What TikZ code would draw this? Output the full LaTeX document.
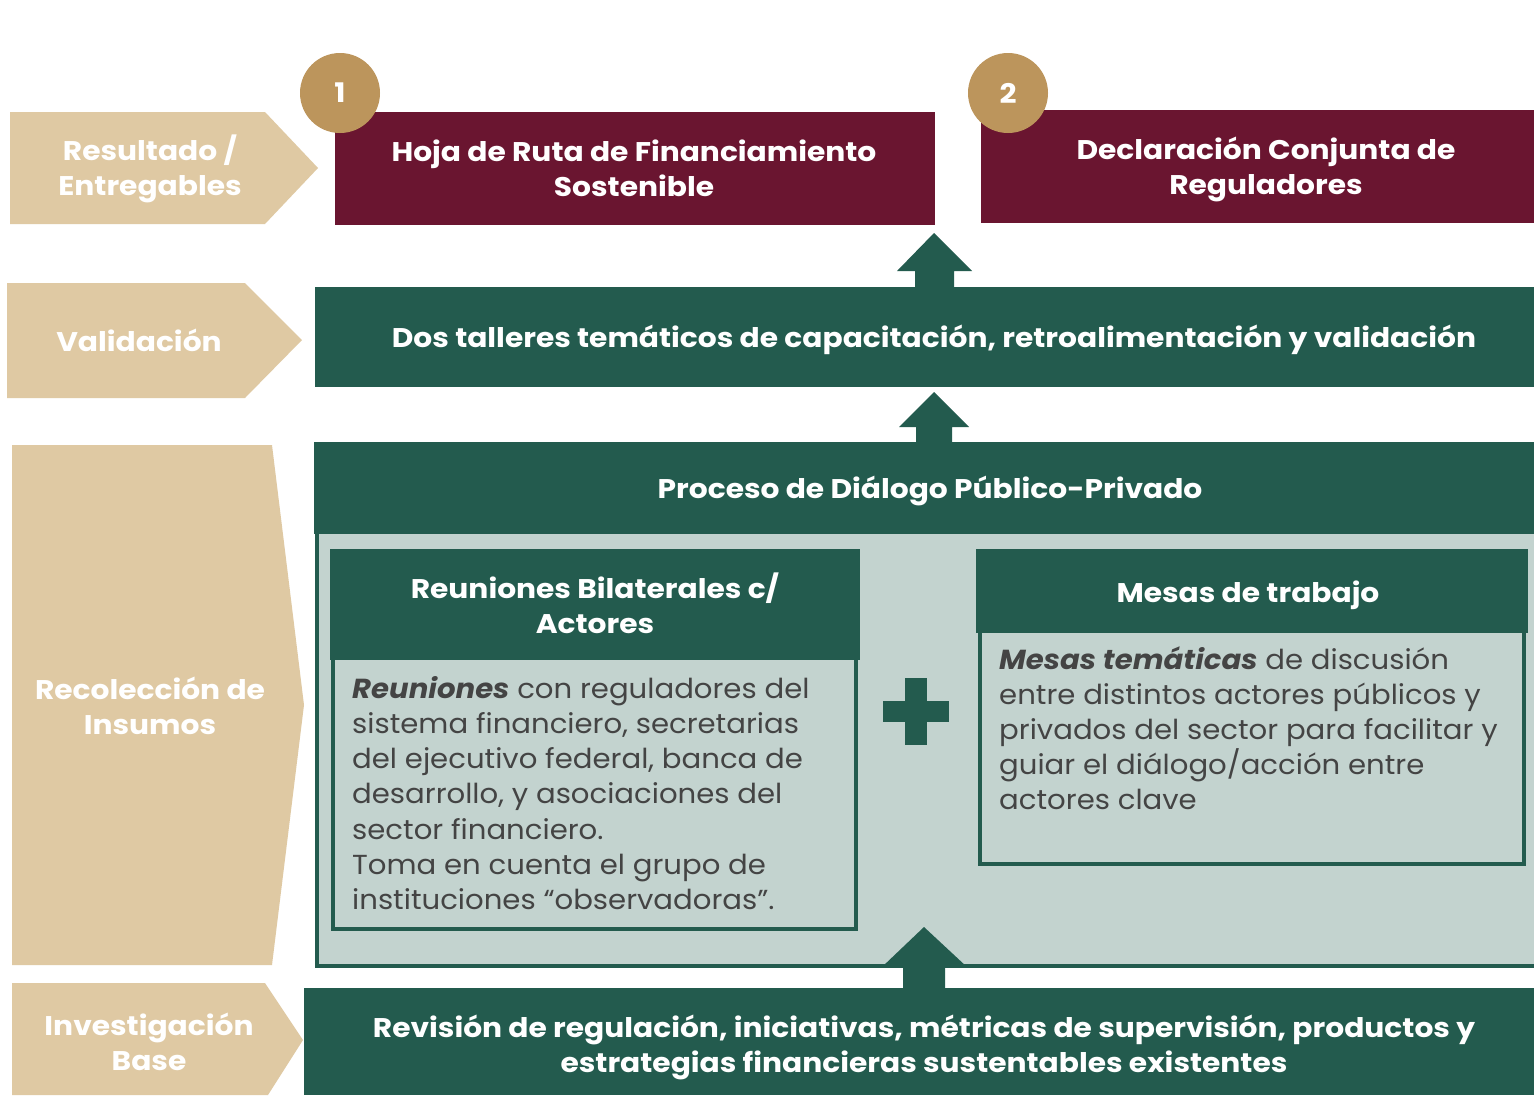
\documentclass[tikz,border=0pt]{standalone}
\usepackage{fontspec}
\setmainfont{Poppins}
\newfontfamily\hdrfam{Poppins}[FakeStretch=1.1]
\newfontfamily\bodyfam{Poppins}[FakeStretch=1.06]
\usetikzlibrary{calc}
\definecolor{beige}{HTML}{DFC9A3}
\definecolor{gold}{HTML}{BC955C}
\definecolor{maroon}{HTML}{6A1530}
\definecolor{dgreen}{HTML}{235B4E}
\definecolor{lightg}{HTML}{C3D3CF}
\definecolor{bodytxt}{HTML}{444444}
\tikzset{
  hdrfont/.style={font=\hdrfam\fontsize{27}{35}\selectfont\bfseries, text=white, align=center},
  lbl/.style={hdrfont},
  chev/.style={fill=beige},
  maroonbox/.style={fill=maroon, anchor=north west, inner sep=0pt},
  greenbox/.style={fill=dgreen, anchor=north west, inner sep=0pt},
  numcirc/.style={circle, fill=gold, minimum size=80pt, inner sep=0pt, text=white, font=\hdrfam\fontsize{27}{30}\selectfont\bfseries},
  upar/.style={fill=dgreen},
  framebox/.style={draw=dgreen, fill=lightg, line width=4pt},
  bodyfont/.style={font=\bodyfam\fontsize{27.5}{35.2}\selectfont, text=bodytxt, align=left, anchor=north west, inner sep=0pt}
}
\begin{document}
\begin{tikzpicture}[x=1pt,y=-1pt]
\useasboundingbox (0,0) rectangle (1534,1095);
\fill[white] (0,0) rectangle (1534,1095);

% left chevrons
\fill[chev] (10,112) -- (265,112) -- (318,168) -- (265,224) -- (10,224) -- cycle;
\node[lbl] (l1) at (150,169) {Resultado /\\Entregables};
\fill[chev] (7,283) -- (245,283) -- (302,340) -- (245,398) -- (7,398) -- cycle;
\node[lbl] (l2) at (139,340) {Validación};
\fill[chev] (12,445) -- (272,445) -- (304,705) -- (272,965) -- (12,965) -- cycle;
\node[lbl] (l3) at (150,706) {Recolección de\\Insumos};
\fill[chev] (12,983) -- (265,983) -- (303,1040) -- (268,1095) -- (12,1095) -- cycle;
\node[lbl] (l4) at (149,1042) {Investigación\\Base};

% top deliverables
\node[maroonbox, minimum width=600pt, minimum height=113pt] (hoja) at (335,112) {};
\node[hdrfont] (hojat) at (634,168.5) {Hoja de Ruta de Financiamiento\\Sostenible};
\node[maroonbox, minimum width=553pt, minimum height=113pt] (decl) at (981,110) {};
\node[hdrfont] (declt) at (1266,169.5) {Declaración Conjunta de\\Reguladores};
\node[numcirc] (n1) at (340,93) {1};
\node[numcirc] (n2) at (1008,93) {2};

% validation
\node[greenbox, minimum width=1219pt, minimum height=100pt] (val) at (315,287) {};
\node[hdrfont] (valt) at (934,340) {Dos talleres temáticos de capacitación, retroalimentación y validación};
\fill[upar] (915,287) -- (915,271) -- (897,271) -- (934,233) -- (972,271) -- (954,271) -- (954,287) -- cycle;

% process
\fill[upar] (916,442) -- (916,427) -- (899,427) -- (934,392) -- (969,427) -- (952,427) -- (952,442) -- cycle;
\draw[framebox] (317,514) rectangle (1540,966);
\node[greenbox, minimum width=1220pt, minimum height=92pt] (proc) at (314,442) {};
\node[hdrfont] (proct) at (930,491) {Proceso de Diálogo Público-Privado};

% reuniones
\draw[framebox] (333,658) rectangle (856,929);
\node[greenbox, minimum width=530pt, minimum height=111pt] (reu) at (330,549) {};
\node[hdrfont] (reut) at (595,603) {Reuniones Bilaterales c/\\Actores};
\node[bodyfont] (reub) at (352,676) {\textbf{\textit{Reuniones}} con reguladores del\\sistema financiero, secretarias\\del ejecutivo federal, banca de\\desarrollo, y asociaciones del\\sector financiero.\\Toma en cuenta el grupo de\\instituciones “observadoras”.};

% mesas
\draw[framebox] (980,631) rectangle (1524,864);
\node[greenbox, minimum width=552pt, minimum height=84pt] (mes) at (976,549) {};
\node[hdrfont] (mest) at (1248,595) {Mesas de trabajo};
\node[bodyfont] (mesb) at (999,646) {\textbf{\textit{Mesas temáticas}} de discusión\\entre distintos actores públicos y\\privados del sector para facilitar y\\guiar el diálogo/acción entre\\actores clave};

% plus
\fill[dgreen] (905,678) rectangle (927,745);
\fill[dgreen] (883,701) rectangle (949,722);

% base
\node[greenbox, minimum width=1230pt, minimum height=107pt] (base) at (304,988) {};
\node[hdrfont] (baset) at (924,1047) {Revisión de regulación, iniciativas, métricas de supervisión, productos y\\estrategias financieras sustentables existentes};
\fill[upar] (903,988) -- (903,967) -- (882,967) -- (924,927) -- (967,967) -- (945,967) -- (945,988) -- cycle;
\end{tikzpicture}
\end{document}
